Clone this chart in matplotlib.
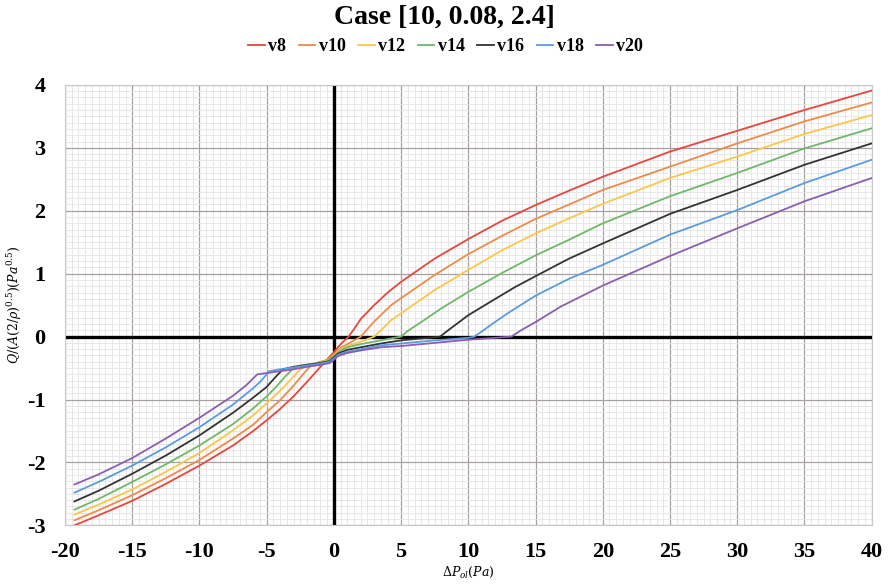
import matplotlib
matplotlib.use("Agg")
import matplotlib.pyplot as plt
from matplotlib.ticker import MultipleLocator

plt.rc('font', family=['Liberation Serif', 'DejaVu Serif'])
plt.rc('mathtext', fontset='dejavuserif')
plt.rc('axes', unicode_minus=False)

# values
series_names = ['v8', 'v10', 'v12', 'v14', 'v16', 'v18', 'v20']
series_colors = ['#e8453c', '#ee8a4a', '#fcc64a', '#6fb86a', '#333333', '#5a9be0', '#8a5eb0']

v8_x = [-19.3, -17.5, -15, -12.5, -10, -7.5, -6, -5, -4, -3, -2, -1.5, -1, -0.5, 0, 0.5, 1.1,
        1.5, 2, 3, 4, 5, 7.5, 10, 12.5, 15, 17.5, 20, 25, 30, 35, 40]
v8_y = [-3.0, -2.84, -2.61, -2.34, -2.05, -1.73, -1.5, -1.33, -1.15, -0.95, -0.72, -0.6, -0.48,
        -0.36, -0.25, -0.12, 0.0, 0.12, 0.28, 0.5, 0.7, 0.87, 1.24, 1.55, 1.84, 2.09, 2.32,
        2.54, 2.94, 3.27, 3.6, 3.91]

v10_x = [-19.3, -17.5, -15, -12.5, -10, -7.5, -6, -5, -4, -3, -2.3, -1.8, -1.3, -0.5, 0, 0.5, 1,
         1.5, 2, 2.5, 3, 4.26, 5, 7.5, 10, 12.5, 15, 17.5, 20, 25, 30, 35, 40]
v10_y = [-2.92, -2.76, -2.52, -2.25, -1.96, -1.62, -1.4, -1.2, -1.01, -0.78, -0.6, -0.48, -0.42,
         -0.37, -0.28, -0.18, -0.12, -0.06, 0.0, 0.12, 0.24, 0.5, 0.61, 0.98, 1.31, 1.6, 1.87,
         2.1, 2.33, 2.7, 3.07, 3.42, 3.72]

v12_x = [-19.3, -17.5, -15, -12.5, -10, -7.5, -6, -5, -4, -3.2, -2.5, -2, -1, -0.3, 0, 0.5, 1,
         2, 3, 3.5, 4.26, 5, 7.5, 10, 12.5, 15, 17.5, 20, 25, 30, 35, 40]
v12_y = [-2.83, -2.67, -2.43, -2.15, -1.85, -1.49, -1.25, -1.06, -0.86, -0.68, -0.52, -0.45,
         -0.41, -0.37, -0.3, -0.2, -0.15, -0.08, 0.0, 0.1, 0.26, 0.37, 0.74, 1.06, 1.37, 1.64,
         1.88, 2.11, 2.52, 2.86, 3.22, 3.52]

v14_x = [-19.3, -17.5, -15, -12.5, -10, -7.5, -6, -5, -4.3, -3.6, -3, -2.5, -1.5, -0.5, 0, 0.5,
         1, 2, 3.5, 5, 5.5, 6.7, 8, 10, 12.5, 15, 17.5, 20, 25, 30, 35, 40]
v14_y = [-2.75, -2.58, -2.31, -2.03, -1.73, -1.39, -1.14, -0.95, -0.8, -0.63, -0.5, -0.46,
         -0.43, -0.39, -0.31, -0.22, -0.17, -0.12, -0.06, 0.0, 0.09, 0.26, 0.45, 0.71, 1.01,
         1.29, 1.54, 1.8, 2.23, 2.6, 2.99, 3.31]

v16_x = [-19.3, -17.5, -15, -12.5, -10, -7.5, -6, -5, -4.5, -3.8, -3, -2, -1, -0.3, 0, 0.3, 1,
         2, 3.5, 5, 7, 7.9, 8.5, 10, 11.7, 13.5, 15, 17.5, 20, 25, 30, 35, 40]
v16_y = [-2.62, -2.45, -2.18, -1.89, -1.57, -1.21, -0.97, -0.8, -0.68, -0.52, -0.48, -0.45,
         -0.42, -0.39, -0.33, -0.27, -0.21, -0.17, -0.11, -0.06, -0.02, 0.0, 0.1, 0.34, 0.56,
         0.79, 0.96, 1.24, 1.48, 1.95, 2.33, 2.73, 3.07]

v18_x = [-19.3, -17.5, -15, -12.5, -10, -7.5, -6, -5.4, -4.8, -4, -3, -2, -1, -0.3, 0, 0.3, 1,
         2, 3.5, 5, 7.5, 10, 10.45, 11, 11.7, 13, 15, 17.5, 20, 25, 30, 35, 40]
v18_y = [-2.48, -2.31, -2.05, -1.76, -1.44, -1.08, -0.82, -0.7, -0.55, -0.52, -0.49, -0.46,
         -0.43, -0.4, -0.35, -0.29, -0.24, -0.2, -0.14, -0.11, -0.06, -0.02, 0.0, 0.08, 0.19,
         0.38, 0.65, 0.92, 1.14, 1.62, 2.01, 2.44, 2.81]

v20_x = [-19.3, -17.5, -15, -12.5, -10, -7.5, -6.5, -5.7, -5, -4, -3, -2, -1, -0.3, 0, 0.3, 1,
         2, 3.5, 5, 7.5, 10, 12, 13.2, 14, 15, 16.9, 20, 25, 30, 35, 40]
v20_y = [-2.35, -2.19, -1.93, -1.62, -1.29, -0.94, -0.77, -0.6, -0.58, -0.55, -0.52, -0.48,
         -0.45, -0.42, -0.37, -0.31, -0.26, -0.22, -0.17, -0.15, -0.1, -0.05, -0.02, 0.0, 0.11,
         0.23, 0.48, 0.81, 1.28, 1.72, 2.15, 2.52]

series_x = [v8_x, v10_x, v12_x, v14_x, v16_x, v18_x, v20_x]
series_y = [v8_y, v10_y, v12_y, v14_y, v16_y, v18_y, v20_y]

x_ticks = list(range(-20, 41, 5))
y_ticks = list(range(-3, 5))

fig = plt.figure(figsize=(8.88, 5.87), dpi=100)
ax = fig.add_axes([0.0732, 0.105, 0.9084, 0.7504])

for xs, ys, name, color in zip(series_x, series_y, series_names, series_colors):
    ax.plot(xs, ys, color=color, linewidth=1.3, label=name, zorder=3,
            solid_joinstyle='round')

ax.axhline(0, color='black', linewidth=2.4, zorder=2)
ax.axvline(0, color='black', linewidth=2.4, zorder=2)

ax.set_xlim(-20, 40)
ax.set_ylim(-3, 4)
ax.set_xticks(x_ticks)
ax.set_yticks(y_ticks)
ax.xaxis.set_minor_locator(MultipleLocator(0.5))
ax.yaxis.set_minor_locator(MultipleLocator(0.1))
ax.grid(which='major', color='#a8a0a0', linewidth=0.9, zorder=1)
ax.grid(which='minor', color='#e4e4e4', linewidth=0.6, zorder=0)
ax.set_axisbelow(True)
ax.tick_params(which='both', length=0)
ax.tick_params(axis='x', pad=12)
ax.tick_params(axis='y', pad=14)
for lbl in ax.get_xticklabels() + ax.get_yticklabels():
    lbl.set_fontsize(16)
    lbl.set_fontweight('bold')
for s in ax.spines.values():
    s.set_color('#c8c8c8')
    s.set_linewidth(0.8)

ax.set_xlabel(r'$\Delta P_{ol}(Pa)$', fontsize=9, labelpad=2)
ax.set_ylabel(r'$Q/(A(2/\rho)^{0.5})(Pa^{0.5})$', fontsize=9, va='center')
ax.yaxis.set_label_coords(-0.062, 0.5)

fig.suptitle('Case [10, 0.08, 2.4]', fontsize=20, fontweight='bold', y=0.992)
leg = fig.legend(loc='center', bbox_to_anchor=(0.502, 0.921), ncol=7, frameon=False,
                 handlelength=0.9, handletextpad=0.2, columnspacing=0.7,
                 prop={'weight': 'bold', 'size': 13})

fig.savefig('out.png', dpi=100)
